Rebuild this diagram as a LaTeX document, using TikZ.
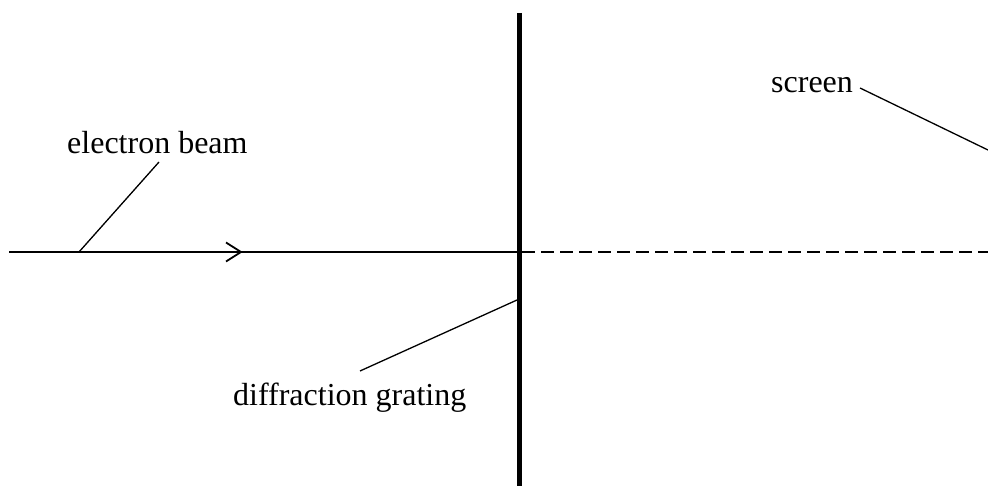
\documentclass[tikz,border=0pt]{standalone}
\usepackage{fontspec}
\setmainfont{Liberation Serif}
\begin{document}
\begin{tikzpicture}[x=1pt,y=-1pt,
  lbl/.style={anchor=base west,inner sep=0pt,font=\fontsize{32}{38}\selectfont},
  leader/.style={line width=1.3pt},
  beam/.style={line width=1.8pt},
  grat/.style={line width=4.5pt}]
\useasboundingbox (0,0) rectangle (988,486);
% grating
\coordinate (gtop) at (519.5,13);
\coordinate (gbot) at (519.5,486);
\draw[grat] (gtop) -- (gbot);
% beam
\coordinate (bstart) at (9,252);
\coordinate (bhit) at (517,252);
\coordinate (dstart) at (522,252);
\coordinate (dend) at (988,252);
\draw[beam] (bstart) -- (bhit);
\draw[beam,dash pattern=on 13pt off 6pt] (dstart) -- (dend);
% chevron arrow
\coordinate (atip) at (241,252);
\draw[beam,line join=miter] (226,242.5) -- (atip) -- (226,261.5);
% labels
\node[lbl] (eb) at (67,154) {electron beam};
\node[lbl] (sc) at (771,93) {screen};
\node[lbl] (dg) at (233,405) {diffraction grating};
% leader ends
\coordinate (ebtop) at (159,162);
\coordinate (ebbot) at (79,252);
\coordinate (sctop) at (860,88);
\coordinate (scend) at (988,150);
\coordinate (dgtop) at (360,371);
\coordinate (dgend) at (517,300);
\draw[leader] (ebtop) -- (ebbot);
\draw[leader] (sctop) -- (scend);
\draw[leader] (dgtop) -- (dgend);
\end{tikzpicture}
\end{document}
